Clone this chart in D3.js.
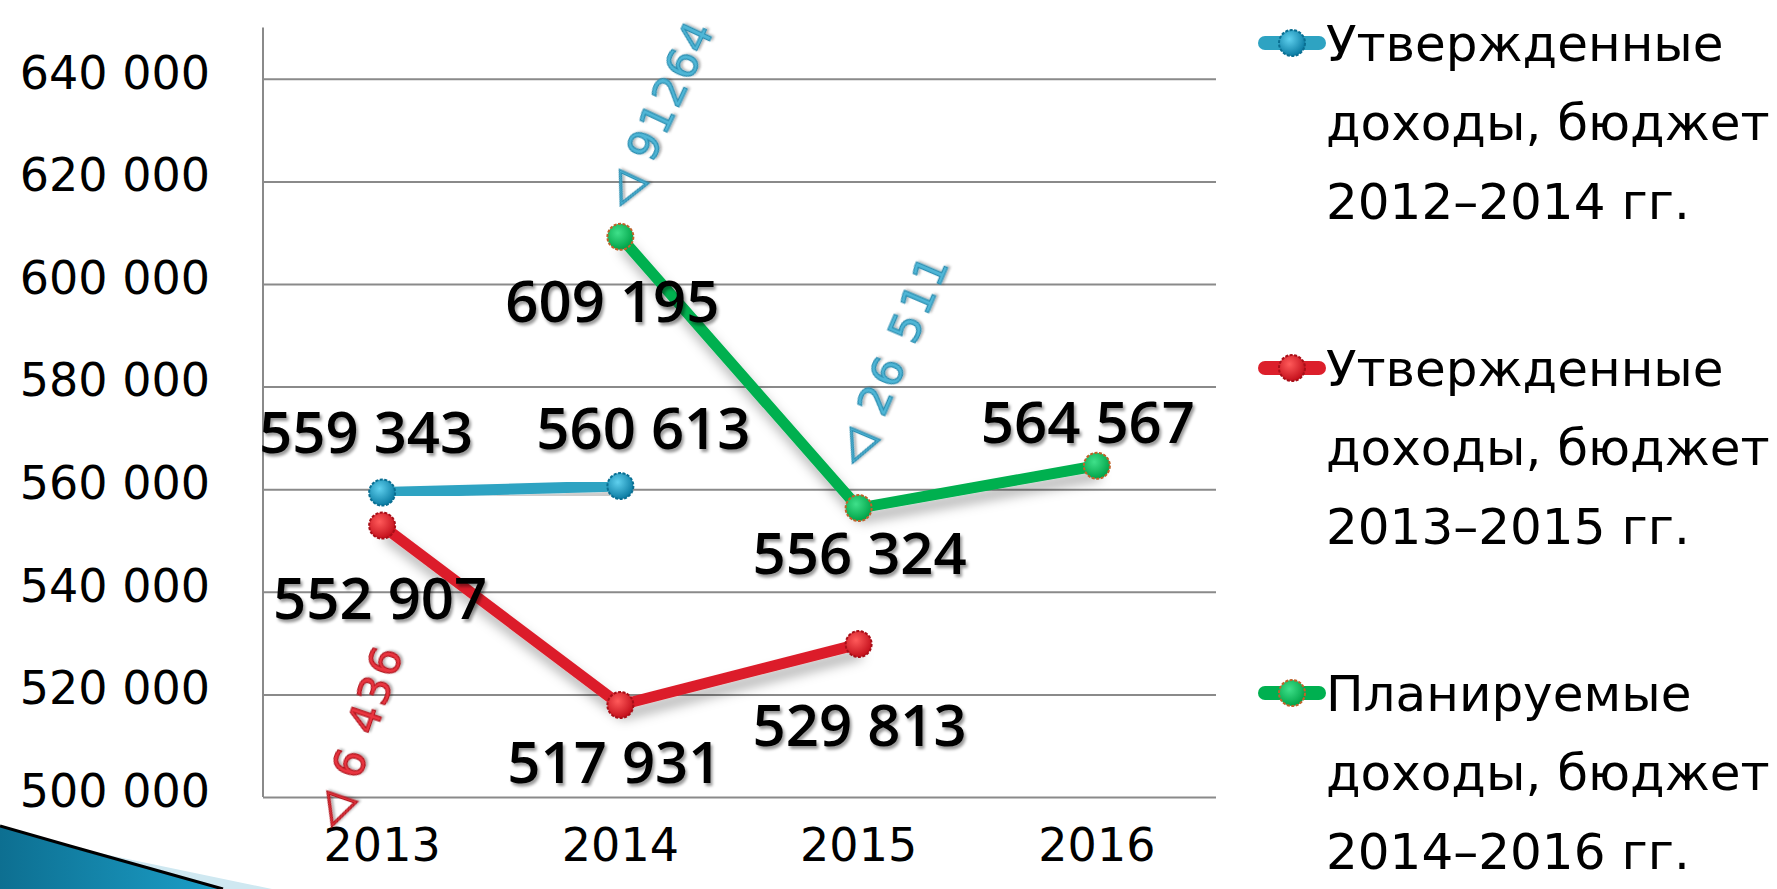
<!DOCTYPE html>
<html>
<head>
<meta charset="utf-8">
<script src="https://cdn.jsdelivr.net/npm/d3@7"></script>
<style>
  html, body { margin: 0; padding: 0; background: #fff; }
  svg { display: block; }
</style>
</head>
<body>
<div id="chart"></div>
<script>
// categories and series
var years = ["2013", "2014", "2015", "2016"];
var yTicks = [500000, 520000, 540000, 560000, 580000, 600000, 620000, 640000];

var seriesNames = [
  ["Утвержденные", "доходы, бюджет", "2012–2014 гг."],
  ["Утвержденные", "доходы, бюджет", "2013–2015 гг."],
  ["Планируемые", "доходы, бюджет", "2014–2016 гг."]
];
var budget2012 = [559343, 560613, null, null];
var budget2013 = [552907, 517931, 529813, null];
var budget2014 = [null, 609195, 556324, 564567];

// delta annotations: text, year, value it hangs from
var deltaLabels = ["◁ 91264", "◁ 26 511", "◁ 6 436"];
var deltaYears = ["2014", "2015", "2013"];
var deltaValues = [609195, 556324, 500000];

var width = 1777, height = 889;
var plotLeft = 263, plotRight = 1216, plotTop = 27.5, plotBottom = 797;

var svg = d3.select("#chart").append("svg")
  .attr("width", width)
  .attr("height", height);

var defs = svg.append("defs");

var sh = defs.append("filter").attr("id", "lineShadow")
  .attr("x", "-20%").attr("y", "-50%").attr("width", "140%").attr("height", "200%");
sh.append("feDropShadow").attr("dx", 3).attr("dy", 9).attr("stdDeviation", 6)
  .attr("flood-color", "#000").attr("flood-opacity", 0.3);

var tsh = defs.append("filter").attr("id", "textShadow")
  .attr("x", "-10%").attr("y", "-20%").attr("width", "130%").attr("height", "150%");
tsh.append("feDropShadow").attr("dx", 2).attr("dy", 3).attr("stdDeviation", 1.5)
  .attr("flood-color", "#000").attr("flood-opacity", 0.4);

var dsh = defs.append("filter").attr("id", "deltaShadow")
  .attr("x", "-20%").attr("y", "-20%").attr("width", "140%").attr("height", "140%");
dsh.append("feDropShadow").attr("dx", 1.5).attr("dy", 2).attr("stdDeviation", 1.2)
  .attr("flood-color", "#000").attr("flood-opacity", 0.3);

function ball(id, light, dark) {
  var g = defs.append("radialGradient").attr("id", id)
    .attr("cx", "40%").attr("cy", "35%").attr("r", "65%");
  g.append("stop").attr("offset", "0%").attr("stop-color", light);
  g.append("stop").attr("offset", "100%").attr("stop-color", dark);
}
ball("ballBlue", "#5fd0ee", "#0b7ca3");
ball("ballRed", "#ff5a5a", "#c4101c");
ball("ballGreen", "#3fe08a", "#00a348");

var swoosh = defs.append("linearGradient").attr("id", "swoosh")
  .attr("x1", "0%").attr("y1", "0%").attr("x2", "100%").attr("y2", "0%");
swoosh.append("stop").attr("offset", "0%").attr("stop-color", "#0d6f91");
swoosh.append("stop").attr("offset", "100%").attr("stop-color", "#1c9fc8");

var series = [
  { values: budget2012, line: "#2ea3c2", fill: "url(#ballBlue)", stroke: "#0a6f92",
    offsets: [[-16, -40], [23, -37], null, null] },
  { values: budget2013, line: "#dc1f2b", fill: "url(#ballRed)", stroke: "#a80f18",
    offsets: [[-2, 93], [-6, 78], [1, 102], null] },
  { values: budget2014, line: "#00b050", fill: "url(#ballGreen)", stroke: "#c0622a",
    offsets: [null, [-8, 85], [1, 66], [-9, -23]] }
];

var deltaStyle = [
  { fill: "#4fb6d6", stroke: "#2a8db0", dx: 10, dy: -26, angle: -65, ls: 2.5 },
  { fill: "#4fb6d6", stroke: "#2a8db0", dx: 4, dy: -40, angle: -67, ls: 3.5 },
  { fill: "#ea3540", stroke: "#b0161f", dx: -40, dy: 34, angle: -71, ls: 3 }
];

var x = d3.scaleBand().domain(years).range([plotLeft, plotRight]).padding(0);
var cx = function(c) { return x(c) + x.bandwidth() / 2; };
var y = d3.scaleLinear().domain([500000, 650000]).range([plotBottom, plotTop]);

var fmt = function(v) { return d3.format(",")(v).replace(/,/g, " "); };

// decorative swoosh bottom-left
svg.append("path")
  .attr("d", "M0,826 L70,846 L222,889 L0,889 Z")
  .attr("fill", "url(#swoosh)");
svg.append("path")
  .attr("d", "M70,847 L222,889 L272,889 Z")
  .attr("fill", "#cfe8f1");
svg.append("path")
  .attr("d", "M0,826 L70,846 L223,889")
  .attr("fill", "none").attr("stroke", "#000").attr("stroke-width", 3);

// gridlines
svg.append("g")
  .attr("class", "grid")
  .attr("transform", "translate(" + plotLeft + ",0)")
  .call(d3.axisLeft(y).tickValues(yTicks).tickSize(-(plotRight - plotLeft)).tickFormat(""))
  .call(function(g) {
    g.select(".domain").remove();
    g.selectAll("line").attr("stroke", "#8a8a8a").attr("stroke-width", 2);
  });

// vertical axis line
svg.append("line")
  .attr("x1", plotLeft).attr("x2", plotLeft)
  .attr("y1", plotTop).attr("y2", plotBottom)
  .attr("stroke", "#8a8a8a").attr("stroke-width", 2);

// y tick labels
svg.append("g")
  .attr("transform", "translate(" + plotLeft + ",0)")
  .call(d3.axisLeft(y).tickValues(yTicks).tickSize(0).tickPadding(53).tickFormat(fmt))
  .call(function(g) {
    g.select(".domain").remove();
    g.selectAll("text")
      .attr("font-family", "DejaVu Sans")
      .attr("font-size", 46)
      .attr("fill", "#000")
      .attr("dy", "0.2em");
  });

// x tick labels
svg.append("g")
  .attr("transform", "translate(0," + plotBottom + ")")
  .call(d3.axisBottom(x).tickSize(0).tickPadding(55))
  .call(function(g) {
    g.select(".domain").remove();
    g.selectAll("text")
      .attr("font-family", "DejaVu Sans")
      .attr("font-size", 46)
      .attr("fill", "#000")
      .attr("dy", "0.2em");
  });

var line = d3.line()
  .defined(function(d) { return d.v != null; })
  .x(function(d) { return cx(d.c); })
  .y(function(d) { return y(d.v); });

series.forEach(function(s) {
  var pts = years.map(function(c, i) { return { c: c, v: s.values[i], off: s.offsets[i] }; });
  var g = svg.append("g");
  g.append("path")
    .attr("d", line(pts))
    .attr("fill", "none")
    .attr("stroke", s.line)
    .attr("stroke-width", 11)
    .attr("stroke-linejoin", "round")
    .attr("filter", "url(#lineShadow)");
  g.selectAll("circle")
    .data(pts.filter(function(d) { return d.v != null; }))
    .enter().append("circle")
    .attr("cx", function(d) { return cx(d.c); })
    .attr("cy", function(d) { return y(d.v); })
    .attr("r", 13)
    .attr("fill", s.fill)
    .attr("stroke", s.stroke)
    .attr("stroke-width", 2)
    .attr("stroke-dasharray", "3,1.5");
  s.pts = pts;
});

// data labels on top
series.forEach(function(s) {
  svg.append("g").selectAll("text")
    .data(s.pts.filter(function(d) { return d.v != null; }))
    .enter().append("text")
    .attr("x", function(d) { return cx(d.c) + d.off[0]; })
    .attr("y", function(d) { return y(d.v) + d.off[1]; })
    .attr("text-anchor", "middle")
    .attr("font-family", "Open Sans")
    .attr("font-weight", 600)
    .attr("font-size", 58)
    .attr("fill", "#000")
    .attr("filter", "url(#textShadow)")
    .text(function(d) { return fmt(d.v); });
});

// delta annotations
deltaLabels.forEach(function(t, i) {
  var st = deltaStyle[i];
  var px = cx(deltaYears[i]) + st.dx;
  var py = y(deltaValues[i]) + st.dy;
  svg.append("text")
    .attr("transform", "translate(" + px + "," + py + ") rotate(" + st.angle + ")")
    .attr("font-family", "DejaVu Sans")
    .attr("font-size", 43)
    .attr("letter-spacing", st.ls)
    .attr("fill", st.fill)
    .attr("stroke", st.stroke)
    .attr("stroke-width", 1.2)
    .attr("filter", "url(#deltaShadow)")
    .text(t);
});

// legend
var legendX = 1292, legendTop = 43, legendStep = 325, lineStep = 79;
var legend = svg.append("g");
series.forEach(function(s, i) {
  var gy = legendTop + i * legendStep;
  var g = legend.append("g").attr("transform", "translate(" + legendX + "," + gy + ")");
  g.append("line")
    .attr("x1", -27).attr("x2", 27)
    .attr("stroke", s.line).attr("stroke-width", 14).attr("stroke-linecap", "round");
  g.append("circle")
    .attr("r", 13)
    .attr("fill", s.fill)
    .attr("stroke", s.stroke)
    .attr("stroke-width", 2)
    .attr("stroke-dasharray", "3,1.5");
  g.selectAll("text")
    .data(seriesNames[i])
    .enter().append("text")
    .attr("x", 34)
    .attr("y", function(d, j) { return 18 + j * lineStep; })
    .attr("font-family", "DejaVu Sans")
    .attr("font-size", 50)
    .attr("fill", "#000")
    .text(function(d) { return d; });
});
</script>
</body>
</html>
